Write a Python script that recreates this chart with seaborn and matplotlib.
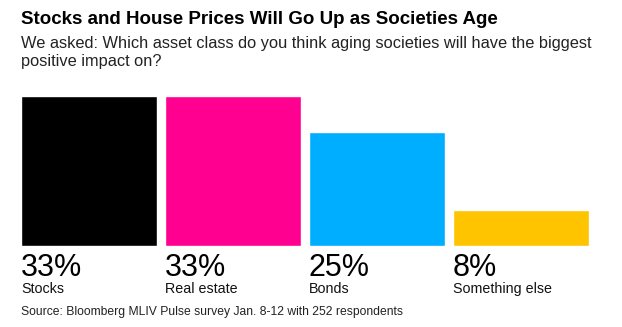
import matplotlib
matplotlib.use("Agg")
import matplotlib.pyplot as plt
import matplotlib.transforms as mtransforms
import seaborn as sns
import pandas as pd

categories = ["Stocks", "Real estate", "Bonds", "Something else"]
shares = [33, 33, 25, 8]
value_labels = ["33%", "33%", "25%", "8%"]
colors = ["#000000", "#FF0090", "#00AEFF", "#FFC400"]

title = "Stocks and House Prices Will Go Up as Societies Age"
subtitle_lines = [
    "We asked: Which asset class do you think aging societies will have the biggest",
    "positive impact on?",
]
source = "Source: Bloomberg MLIV Pulse survey Jan. 8-12 with 252 respondents"

sns.set_theme(style="white")
plt.rcParams["font.family"] = ["Liberation Sans", "DejaVu Sans"]

W, H, DPI = 622, 327, 100
fig = plt.figure(figsize=(W / DPI, H / DPI), dpi=DPI)
ax = fig.add_axes([21 / W, (H - 246) / H, (589 - 21) / W, (246 - 96) / H])

df = pd.DataFrame({"category": categories, "share": shares})
bar_w = 136 / 144
sns.barplot(data=df, x="category", y="share", hue="category", palette=colors,
            saturation=1, width=bar_w, legend=False, ax=ax)
ax.set_xlim(-bar_w / 2, len(categories) - 1 + bar_w / 2)
ax.set_ylim(0, max(shares))
ax.set_axis_off()

# Labels under each bar, left-aligned to the bar edge
trans = mtransforms.blended_transform_factory(ax.transData, fig.transFigure)
for i, (lab, val) in enumerate(zip(categories, value_labels)):
    x0 = i - bar_w / 2
    ax.text(x0, 1 - 276.5 / H, val, transform=trans, fontsize=22,
            color="black", ha="left", va="baseline")
    ax.text(x0, 1 - 293 / H, lab, transform=trans, fontsize=10.3,
            color="#111111", ha="left", va="baseline")

fig.text(21 / W, 1 - 24 / H, title, fontsize=13.5, fontweight="bold",
         color="black", ha="left", va="baseline")
for k, line in enumerate(subtitle_lines):
    fig.text(21 / W, 1 - (47.7 + 18.3 * k) / H, line, fontsize=11.8,
             color="#222222", ha="left", va="baseline")
fig.text(21 / W, 1 - 315.5 / H, source, fontsize=8.75, color="#222222",
         ha="left", va="baseline")

fig.savefig("out.png", dpi=DPI, facecolor="white")
